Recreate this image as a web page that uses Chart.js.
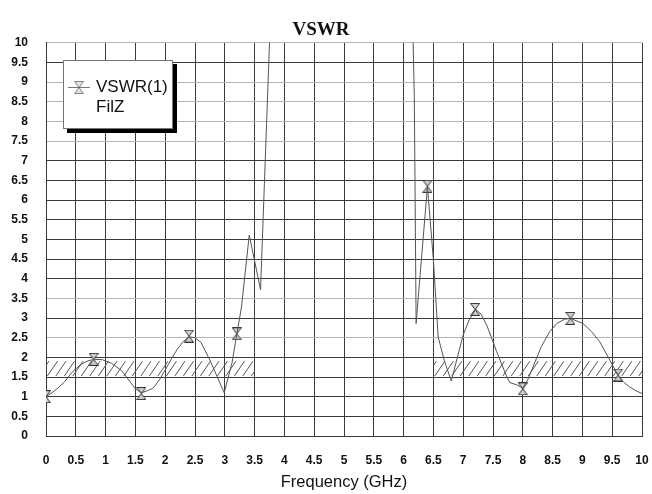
<!DOCTYPE html>
<html><head><meta charset="utf-8">
<script src="https://cdn.jsdelivr.net/npm/chart.js@4/dist/chart.umd.min.js"></script>
<style>html,body{margin:0;padding:0;background:#fff}#wrap{width:652px;height:494px}</style>
</head><body><div id="wrap"><canvas id="c" width="652" height="494"></canvas></div>
<script>
// ---- data ----
const freqGHz = [0,0.1,0.2,0.3,0.46,0.6,0.7,0.81,0.95,1.1,1.27,1.4,1.5,1.6,1.7,1.8,1.9,2.0,2.1,2.2,2.3,2.4,2.5,2.6,2.75,2.99,3.12,3.2,3.28,3.41,3.6,3.75,3.8,6.12,6.16,6.18,6.21,6.4,6.5,6.58,6.68,6.8,7.0,7.1,7.21,7.3,7.4,7.47,7.56,7.64,7.72,7.78,7.9,8.0,8.08,8.15,8.31,8.45,8.57,8.7,8.8,9.01,9.15,9.29,9.46,9.61,9.7,9.79,9.9,10.0];
const vswr =    [1.0,1.1,1.22,1.36,1.66,1.83,1.91,1.95,1.94,1.85,1.66,1.4,1.2,1.1,1.15,1.22,1.42,1.68,1.95,2.2,2.4,2.52,2.5,2.38,1.93,1.1,1.85,2.57,3.28,5.11,3.72,10.0,11.5,11.5,10.0,8.6,2.86,6.35,4.47,2.52,1.93,1.4,2.57,2.95,3.22,3.1,2.8,2.52,2.15,1.85,1.55,1.36,1.3,1.22,1.42,1.68,2.27,2.65,2.86,2.97,2.99,2.86,2.66,2.4,1.93,1.51,1.36,1.25,1.15,1.08];
const markerFreqGHz = [0,0.8,1.6,2.4,3.2,6.4,7.2,8.0,8.8,9.6];
const markerVswr =    [1.0,1.95,1.08,2.54,2.6,6.35,3.22,1.2,2.99,1.55];
const bandStartGHz = [0, 6.5];
const bandEndGHz =   [3.5, 10];
const bandLow = 1.5;
const bandHigh = 1.93;
const xTickValues = [0,0.5,1,1.5,2,2.5,3,3.5,4,4.5,5,5.5,6,6.5,7,7.5,8,8.5,9,9.5,10];
const yTickValues = [0,0.5,1,1.5,2,2.5,3,3.5,4,4.5,5,5.5,6,6.5,7,7.5,8,8.5,9,9.5,10];
const legendLabels = ['VSWR(1)', 'FilZ'];
const titleText = 'VSWR';
const xTitle = 'Frequency (GHz)';

// ---- styles ----
const lightRows = [10, 9, 8.5, 8, 7.5, 3.5, 2.5];
function hourglass() {
  const c = document.createElement('canvas');
  c.width = 10; c.height = 13;
  const g = c.getContext('2d');
  g.strokeStyle = '#333'; g.fillStyle = '#cfcfcf'; g.lineWidth = 1;
  g.beginPath(); g.moveTo(0.5,0.5); g.lineTo(9.5,0.5); g.lineTo(5,6.5); g.closePath(); g.fill(); g.stroke();
  g.beginPath(); g.moveTo(0.5,12.5); g.lineTo(9.5,12.5); g.lineTo(5,6.5); g.closePath(); g.fill(); g.stroke();
  return c;
}
const markerImg = hourglass();

const hatchPlugin = {
  id: 'hatch',
  beforeDatasetsDraw(chart) {
    const {ctx, scales: {x, y}} = chart;
    for (let i = 0; i < bandStartGHz.length; i++) {
      const l = x.getPixelForValue(bandStartGHz[i]);
      const r = x.getPixelForValue(bandEndGHz[i]);
      const t = y.getPixelForValue(bandHigh);
      const b = y.getPixelForValue(bandLow);
      ctx.save();
      ctx.beginPath(); ctx.rect(l, t, r - l, b - t); ctx.clip();
      ctx.strokeStyle = '#555'; ctx.lineWidth = 1;
      const h = b - t, dx = h * 0.6;
      for (let xx = l - dx + 3; xx < r + dx; xx += 8.5) {
        ctx.beginPath(); ctx.moveTo(xx, b - 1); ctx.lineTo(xx + dx, t + 1); ctx.stroke();
      }
      ctx.restore();
    }
  }
};

const legendPlugin = {
  id: 'boxLegend',
  afterDraw(chart) {
    const ctx = chart.ctx;
    const bx = 63, by = 60, bw = 110, bh = 69;
    ctx.save();
    ctx.fillStyle = '#000';
    ctx.fillRect(bx + 4, by + 4, bw, bh);
    ctx.fillStyle = '#fff';
    ctx.fillRect(bx, by, bw, bh);
    ctx.strokeStyle = '#777'; ctx.lineWidth = 1;
    ctx.strokeRect(bx + 0.5, by + 0.5, bw - 1, bh - 1);
    ctx.strokeStyle = '#777';
    ctx.beginPath(); ctx.moveTo(bx + 5, by + 27.5); ctx.lineTo(bx + 27, by + 27.5); ctx.stroke();
    ctx.globalAlpha = 0.6;
    ctx.drawImage(markerImg, bx + 16 - 5, by + 27 - 6);
    ctx.globalAlpha = 1;
    ctx.fillStyle = '#111';
    ctx.font = '17px "Liberation Sans", Arial, sans-serif';
    ctx.textBaseline = 'alphabetic';
    ctx.fillText(legendLabels[0], bx + 33, by + 32);
    ctx.fillText(legendLabels[1], bx + 33, by + 52);
    ctx.restore();
  }
};

const tickFont = {family: '"Liberation Sans", Arial, sans-serif', size: 12, weight: 'bold'};

new Chart(document.getElementById('c'), {
  type: 'line',
  data: {
    datasets: [
      {
        label: legendLabels[0],
        data: freqGHz.map((f, i) => ({x: f, y: vswr[i]})),
        borderColor: '#555', borderWidth: 1, pointRadius: 0, tension: 0, fill: false
      },
      {
        label: 'markers',
        data: markerFreqGHz.map((f, i) => ({x: f, y: markerVswr[i]})),
        showLine: false, pointStyle: markerImg, pointRadius: 6
      }
    ]
  },
  options: {
    responsive: false, animation: false, devicePixelRatio: 1,
    layout: {padding: {left: 0, right: 10, top: 0, bottom: 0}},
    plugins: {
      legend: {display: false}, tooltip: {enabled: false},
      title: {display: true, text: titleText, color: '#111',
        font: {family: '"Liberation Serif", "Times New Roman", serif', size: 19, weight: 'bold'},
        padding: {top: 19, bottom: 1}}
    },
    scales: {
      x: {
        type: 'linear', min: 0, max: 10,
        afterBuildTicks: s => { s.ticks = xTickValues.map(v => ({value: v})); },
        afterFit: s => { s.height = 58; s.paddingLeft = 0; s.paddingRight = 0; },
        ticks: {autoSkip: false, maxRotation: 0, padding: 17, color: '#111', font: tickFont,
          callback: v => String(v)},
        grid: {color: '#3a3a3a', lineWidth: 1, drawTicks: false},
        border: {color: '#3a3a3a'},
        title: {display: true, text: xTitle, color: '#111',
          font: {family: '"Liberation Sans", Arial, sans-serif', size: 16.5},
          padding: {top: 0, bottom: 2}}
      },
      y: {
        type: 'linear', min: 0, max: 10,
        afterBuildTicks: s => { s.ticks = yTickValues.map(v => ({value: v})); },
        afterFit: s => { s.width = 46; s.paddingTop = 0; s.paddingBottom = 0; },
        ticks: {autoSkip: false, padding: 18, color: '#111', font: tickFont,
          callback: v => String(v)},
        grid: {color: c => (c.tick && lightRows.includes(c.tick.value)) ? '#b4b4b4' : '#3a3a3a',
          lineWidth: 1, drawTicks: false},
        border: {color: '#3a3a3a'}
      }
    }
  },
  plugins: [hatchPlugin, legendPlugin]
});
</script></body></html>
